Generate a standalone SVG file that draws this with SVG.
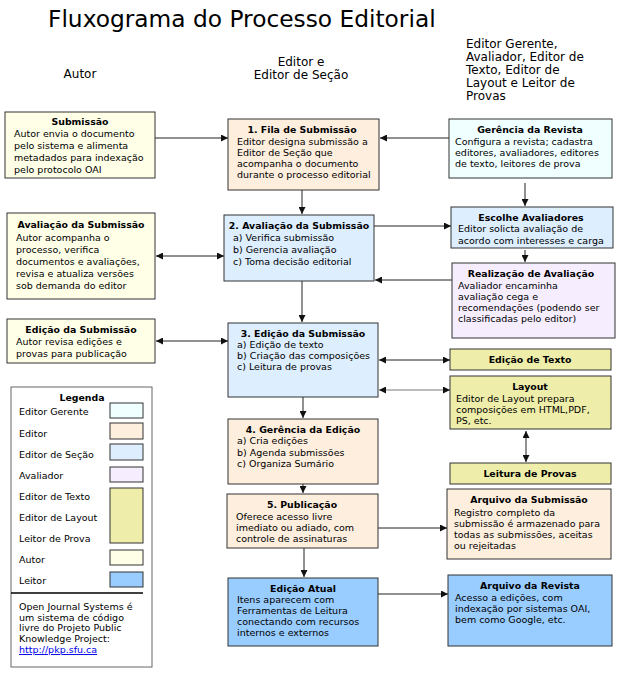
<svg xmlns="http://www.w3.org/2000/svg" width="620" height="675" viewBox="0 0 620 675">
<style>
text{font-family:"DejaVu Sans","Liberation Sans",sans-serif;fill:#000}
.t{font-size:9.4px;font-weight:bold;text-anchor:middle}
.b{font-size:9.5px}
.h{font-size:12px}
.box{stroke:#333;stroke-width:1}
.au{fill:#FFFFE8}.eg{fill:#F0FFFF}.ed{fill:#FDEEDE}.se{fill:#DDEEFF}.av{fill:#F6EEFF}.tx{fill:#EEEEAA}.le{fill:#99CCFF}
.c{stroke:#222;stroke-width:1;fill:none}
.g{stroke:#777}
</style>
<defs>
<marker id="ah" markerWidth="7" markerHeight="7" refX="7" refY="3.5" orient="auto-start-reverse" markerUnits="userSpaceOnUse"><path d="M0,0 L7,3.5 L0,7 z" fill="#111"/></marker>
</defs>
<rect width="620" height="675" fill="#fff"/>
<text x="48" y="27" style="font-size:23.3px">Fluxograma do Processo Editorial</text>
<text class="h" x="80" y="78" text-anchor="middle">Autor</text>
<text class="h" x="301" y="66" text-anchor="middle">Editor e</text>
<text class="h" x="301" y="79" text-anchor="middle">Editor de Seção</text>
<text class="h" x="466" y="48">Editor Gerente,</text>
<text class="h" x="466" y="61">Avaliador, Editor de</text>
<text class="h" x="466" y="74">Texto, Editor de</text>
<text class="h" x="466" y="87">Layout e Leitor de</text>
<text class="h" x="466" y="100">Provas</text>

<g id="connectors">
<path class="c" d="M155,138 H228" marker-end="url(#ah)"/>
<path class="c" d="M449,138 H380" marker-end="url(#ah)"/>
<path class="c" d="M302,190 V214" marker-end="url(#ah)"/>
<path class="c" d="M156,256 H224" marker-start="url(#ah)" marker-end="url(#ah)"/>
<path class="c" d="M374,226 H451" marker-end="url(#ah)"/>
<path class="c" d="M452,280 H375" marker-end="url(#ah)"/>
<path class="c" d="M525,183 V206" marker-end="url(#ah)"/>
<path class="c" d="M525,250 V262" marker-end="url(#ah)"/>
<path class="c" d="M302,281 V322" marker-end="url(#ah)"/>
<path class="c" d="M156,341 H228" marker-start="url(#ah)" marker-end="url(#ah)"/>
<path class="c" d="M379,360 H450" marker-start="url(#ah)" marker-end="url(#ah)"/>
<path class="c g" d="M379,390 H450" marker-start="url(#ah)" marker-end="url(#ah)"/>
<path class="c" d="M526,431 V462" marker-start="url(#ah)" marker-end="url(#ah)"/>
<path class="c" d="M303,397 V418" marker-end="url(#ah)"/>
<path class="c" d="M303,484 V493" marker-end="url(#ah)"/>
<path class="c" d="M378,528 H447" marker-end="url(#ah)"/>
<path class="c" d="M304,548 V577" marker-end="url(#ah)"/>
<path class="c" d="M378,594 H448" marker-end="url(#ah)"/>
</g>

<g id="submissao">
<rect class="box au" x="5" y="112" width="150" height="66"/>
<text class="t" x="80" y="125">Submissão</text>
<text class="b" x="14" y="137">Autor envia o documento</text>
<text class="b" x="14" y="149">pelo sistema e alimenta</text>
<text class="b" x="14" y="161">metadados para indexação</text>
<text class="b" x="14" y="173">pelo protocolo OAI</text>
</g>

<g id="avaliacao-autor">
<rect class="box au" x="7" y="213" width="148" height="86"/>
<text class="t" x="81" y="228">Avaliação da Submissão</text>
<text class="b" x="16" y="241">Autor acompanha o</text>
<text class="b" x="16" y="253">processo, verifica</text>
<text class="b" x="16" y="265">documentos e avaliações,</text>
<text class="b" x="16" y="277">revisa e atualiza versões</text>
<text class="b" x="16" y="289">sob demanda do editor</text>
</g>

<g id="edicao-autor">
<rect class="box au" x="7" y="319" width="148" height="44"/>
<text class="t" x="81" y="333">Edição da Submissão</text>
<text class="b" x="16" y="345">Autor revisa edições e</text>
<text class="b" x="16" y="357">provas para publicação</text>
</g>

<g id="fila">
<rect class="box ed" x="228" y="119" width="151" height="71"/>
<text class="t" x="302" y="133">1. Fila de Submissão</text>
<text class="b" x="237" y="145">Editor designa submissão a</text>
<text class="b" x="237" y="156">Editor de Seção que</text>
<text class="b" x="237" y="167">acompanha o documento</text>
<text class="b" x="237" y="178">durante o processo editorial</text>
</g>

<g id="avaliacao">
<rect class="box se" x="224" y="215" width="150" height="66"/>
<text class="t" x="299" y="229">2. Avaliação da Submissão</text>
<text class="b" x="233" y="241">a) Verifica submissão</text>
<text class="b" x="233" y="253">b) Gerencia avaliação</text>
<text class="b" x="233" y="265">c) Toma decisão editorial</text>
</g>

<g id="edicao">
<rect class="box se" x="228" y="323" width="150" height="74"/>
<text class="t" x="303" y="337">3. Edição da Submissão</text>
<text class="b" x="237" y="348">a) Edição de texto</text>
<text class="b" x="237" y="359">b) Criação das composições</text>
<text class="b" x="237" y="370">c) Leitura de provas</text>
</g>

<g id="gerencia-edicao">
<rect class="box ed" x="228" y="419" width="150" height="65"/>
<text class="t" x="303" y="433">4. Gerência da Edição</text>
<text class="b" x="237" y="444">a) Cria edições</text>
<text class="b" x="237" y="456">b) Agenda submissões</text>
<text class="b" x="237" y="467">c) Organiza Sumário</text>
</g>

<g id="publicacao">
<rect class="box ed" x="227" y="494" width="151" height="54"/>
<text class="t" x="302" y="508">5. Publicação</text>
<text class="b" x="236" y="520">Oferece acesso livre</text>
<text class="b" x="236" y="531">imediato ou adiado, com</text>
<text class="b" x="236" y="542">controle de assinaturas</text>
</g>

<g id="edicao-atual">
<rect class="box le" x="228" y="578" width="150" height="68"/>
<text class="t" x="303" y="592">Edição Atual</text>
<text class="b" x="237" y="603">Itens aparecem com</text>
<text class="b" x="237" y="614">Ferramentas de Leitura</text>
<text class="b" x="237" y="625">conectando com recursos</text>
<text class="b" x="237" y="636">internos e externos</text>
</g>

<g id="gerencia-revista">
<rect class="box eg" x="449" y="119" width="163" height="59"/>
<text class="t" x="530" y="133">Gerência da Revista</text>
<text class="b" x="455" y="145">Configura a revista; cadastra</text>
<text class="b" x="455" y="156">editores, avaliadores, editores</text>
<text class="b" x="455" y="167">de texto, leitores de prova</text>
</g>

<g id="escolhe">
<rect class="box se" x="451" y="207" width="162" height="41"/>
<text class="t" x="531" y="221">Escolhe Avaliadores</text>
<text class="b" x="458" y="232">Editor solicta avaliação de</text>
<text class="b" x="458" y="244">acordo com interesses e carga</text>
</g>

<g id="realizacao">
<rect class="box av" x="452" y="263" width="163" height="75"/>
<text class="t" x="531" y="277">Realização de Avaliação</text>
<text class="b" x="458" y="289">Avaliador encaminha</text>
<text class="b" x="458" y="300">avaliação cega e</text>
<text class="b" x="458" y="311">recomendações (podendo ser</text>
<text class="b" x="458" y="322">classificadas pelo editor)</text>
</g>

<g id="edicao-texto">
<rect class="box tx" x="450" y="349" width="161" height="21"/>
<text class="t" x="530" y="363">Edição de Texto</text>
</g>

<g id="layout">
<rect class="box tx" x="450" y="376" width="161" height="53"/>
<text class="t" x="530" y="390">Layout</text>
<text class="b" x="456" y="402">Editor de Layout prepara</text>
<text class="b" x="456" y="413">composições em HTML,PDF,</text>
<text class="b" x="456" y="424">PS, etc.</text>
</g>

<g id="leitura">
<rect class="box tx" x="450" y="463" width="161" height="21"/>
<text class="t" x="530" y="477">Leitura de Provas</text>
</g>

<g id="arquivo-submissao">
<rect class="box ed" x="447" y="489" width="164" height="70"/>
<text class="t" x="529" y="503">Arquivo da Submissão</text>
<text class="b" x="454" y="516">Registro completo da</text>
<text class="b" x="454" y="527">submissão é armazenado para</text>
<text class="b" x="454" y="538">todas as submissões, aceitas</text>
<text class="b" x="454" y="549">ou rejeitadas</text>
</g>

<g id="arquivo-revista">
<rect class="box le" x="448" y="575" width="164" height="71"/>
<text class="t" x="530" y="589">Arquivo da Revista</text>
<text class="b" x="455" y="601">Acesso a edições, com</text>
<text class="b" x="455" y="612">indexação por sistemas OAI,</text>
<text class="b" x="455" y="623">bem como Google, etc.</text>
</g>

<g id="legenda">
<rect x="11" y="387" width="141" height="280" fill="#fff" stroke="#666"/>
<text class="t" x="82" y="401">Legenda</text>
<text class="b" x="19" y="415">Editor Gerente</text>
<rect class="box eg" x="110" y="403" width="33" height="15"/>
<text class="b" x="19" y="437">Editor</text>
<rect class="box ed" x="110" y="423" width="33" height="16"/>
<text class="b" x="19" y="458">Editor de Seção</text>
<rect class="box se" x="110" y="444" width="33" height="16"/>
<text class="b" x="19" y="479">Avaliador</text>
<rect class="box av" x="110" y="467" width="33" height="15"/>
<text class="b" x="19" y="500">Editor de Texto</text>
<text class="b" x="19" y="521">Editor de Layout</text>
<text class="b" x="19" y="542">Leitor de Prova</text>
<rect class="box tx" x="110" y="488" width="33" height="55"/>
<text class="b" x="19" y="563">Autor</text>
<rect class="box au" x="110" y="550" width="33" height="15"/>
<text class="b" x="19" y="584">Leitor</text>
<rect class="box le" x="110" y="572" width="33" height="15"/>
<line x1="11" y1="593" x2="143" y2="593" stroke="#000" stroke-width="1.5"/>
<text class="b" x="19" y="610">Open Journal Systems é</text>
<text class="b" x="19" y="621">um sistema de código</text>
<text class="b" x="19" y="631">livre do Projeto Public</text>
<text class="b" x="19" y="642">Knowledge Project:</text>
<text class="b" x="19" y="653" style="fill:#0000EE;text-decoration:underline">http://pkp.sfu.ca</text>
</g>
</svg>
